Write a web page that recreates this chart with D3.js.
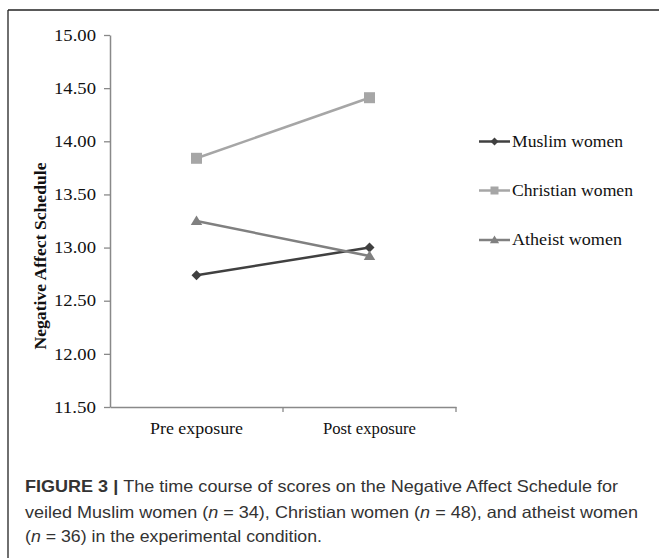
<!DOCTYPE html>
<html>
<head>
<meta charset="utf-8">
<script src="https://cdn.jsdelivr.net/npm/d3@7/dist/d3.min.js"></script>
<style>
  html, body { margin: 0; padding: 0; background: #fff; }
  svg { display: block; }
  .serif { font-family: "Liberation Serif", "Times New Roman", serif; }
</style>
</head>
<body>
<svg id="chart" width="659" height="558"></svg>
<script>
// ---- data ----
const timepoints = ["Pre exposure", "Post exposure"];
const seriesNames = ["Muslim women", "Christian women", "Atheist women"];
const muslimValues = [12.74, 13.00];
const christianValues = [13.84, 14.41];
const atheistValues = [13.25, 12.92];
const yTicks = [11.5, 12.0, 12.5, 13.0, 13.5, 14.0, 14.5, 15.0];
const yLabel = "Negative Affect Schedule";
const captionLines = [
  [{t: "FIGURE 3 | ", b: true}, {t: "The time course of scores on the Negative Affect Schedule for"}],
  [{t: "veiled Muslim women ("}, {t: "n", i: true}, {t: " = 34), Christian women ("}, {t: "n", i: true}, {t: " = 48), and atheist women"}],
  [{t: "("}, {t: "n", i: true}, {t: " = 36) in the experimental condition."}]
];

const series = [
  {name: seriesNames[0], values: muslimValues, color: "#404040", shape: "diamond"},
  {name: seriesNames[1], values: christianValues, color: "#a6a6a6", shape: "square"},
  {name: seriesNames[2], values: atheistValues, color: "#808080", shape: "triangle"}
];

const svg = d3.select("#chart");

// frame (top and left border)
svg.append("line").attr("x1", 8).attr("y1", 10).attr("x2", 659).attr("y2", 10)
  .attr("stroke", "#222").attr("stroke-width", 1.3);
svg.append("line").attr("x1", 8).attr("y1", 10).attr("x2", 8).attr("y2", 558)
  .attr("stroke", "#222").attr("stroke-width", 1.3);

const plotLeft = 110, plotRight = 456, plotTop = 35, plotBottom = 407;

const x = d3.scaleBand().domain(timepoints).range([plotLeft, plotRight]).padding(0);
const y = d3.scaleLinear().domain([11.5, 15]).range([plotBottom, plotTop]);

const axisColor = "#898989";
const fmt = d3.format(".2f");

// y axis (lines from d3 axis, labels as own serif text)
const yAxis = svg.append("g").attr("transform", `translate(${plotLeft},0)`)
  .call(d3.axisLeft(y).tickValues(yTicks).tickFormat("").tickSize(6).tickSizeOuter(0));
yAxis.select(".domain").attr("stroke", axisColor).attr("stroke-width", 1.5);
yAxis.selectAll(".tick line").attr("stroke", axisColor).attr("stroke-width", 1.3);
yAxis.selectAll(".tick text").remove();
svg.append("g").selectAll("text").data(yTicks).enter().append("text")
  .attr("class", "serif")
  .attr("x", plotLeft - 14).attr("y", d => y(d)).attr("dy", "0.35em")
  .attr("text-anchor", "end")
  .attr("fill", "#111")
  .style("font-size", "16.5px")
  .attr("textLength", 42).attr("lengthAdjust", "spacingAndGlyphs")
  .text(d => fmt(d));

// x axis
const xAxis = svg.append("g").attr("transform", `translate(0,${plotBottom})`)
  .call(d3.axisBottom(x).tickSize(0).tickSizeOuter(0).tickFormat(""));
xAxis.select(".domain").attr("stroke", axisColor).attr("stroke-width", 1.5);
xAxis.selectAll(".tick text").remove();
const boundaries = [x(timepoints[1]), x(timepoints[1]) + x.bandwidth()];
xAxis.selectAll(".bnd").data(boundaries).enter().append("line")
  .attr("x1", d => d).attr("x2", d => d).attr("y1", 0).attr("y2", 5)
  .attr("stroke", axisColor).attr("stroke-width", 1.3);
svg.append("g").selectAll("text").data(timepoints).enter().append("text")
  .attr("class", "serif")
  .attr("x", d => x(d) + x.bandwidth() / 2).attr("y", plotBottom + 27)
  .attr("text-anchor", "middle").attr("fill", "#111")
  .style("font-size", "16px")
  .attr("textLength", 93).attr("lengthAdjust", "spacingAndGlyphs")
  .text(d => d);

// y label
svg.append("text").attr("class", "serif")
  .attr("transform", `translate(46,${(plotTop + plotBottom) / 2 + 35}) rotate(-90)`)
  .attr("text-anchor", "middle")
  .style("font-weight", "bold").style("font-size", "16px")
  .attr("textLength", 187).attr("lengthAdjust", "spacingAndGlyphs")
  .attr("fill", "#111")
  .text(yLabel);

// markers
function marker(sel, shape, color, s) {
  if (shape === "diamond") {
    sel.append("path").attr("d", `M0,${-s}L${s},0L0,${s}L${-s},0Z`).attr("fill", color);
  } else if (shape === "square") {
    sel.append("rect").attr("x", -s).attr("y", -s).attr("width", 2 * s).attr("height", 2 * s).attr("fill", color);
  } else {
    sel.append("path").attr("d", `M0,${-s * 1.1}L${s * 1.15},${s * 0.8}L${-s * 1.15},${s * 0.8}Z`).attr("fill", color);
  }
}

const cx = d => x(d) + x.bandwidth() / 2;
const line = d3.line().x(d => cx(d.t)).y(d => y(d.v));

series.forEach(s => {
  const pts = s.values.map((v, i) => ({t: timepoints[i], v}));
  svg.append("path").datum(pts).attr("d", line).attr("fill", "none")
    .attr("stroke", s.color).attr("stroke-width", 2.5);
  pts.forEach(p => {
    const g = svg.append("g").attr("transform", `translate(${cx(p.t)},${y(p.v)})`);
    marker(g, s.shape, s.color, s.shape === "square" ? 5.5 : 5);
  });
});

// legend
const legendY = [141.5, 190.5, 240];
const legendWidths = [111, 121, 110];
series.forEach((s, i) => {
  const g = svg.append("g").attr("transform", `translate(479,${legendY[i]})`);
  g.append("line").attr("x1", 0).attr("x2", 31).attr("y1", 0).attr("y2", 0)
    .attr("stroke", s.color).attr("stroke-width", 2.5);
  const m = g.append("g").attr("transform", "translate(15.5,0)");
  marker(m, s.shape, s.color, 4);
  g.append("text").attr("class", "serif").attr("x", 33).attr("y", 0).attr("dy", "0.33em")
    .style("font-size", "16.5px").attr("fill", "#111")
    .attr("textLength", legendWidths[i]).attr("lengthAdjust", "spacingAndGlyphs")
    .text(s.name);
});

// caption
const capBase = [491.5, 517.5, 542];
const capLen = [593, 613, 297];
const sans = "'Liberation Sans', Arial, Helvetica, sans-serif";
captionLines.forEach((parts, i) => {
  const t = svg.append("text").attr("x", 25).attr("y", capBase[i])
    .style("font-family", sans).style("font-size", "16.5px").attr("fill", "#333")
    .attr("textLength", capLen[i]).attr("lengthAdjust", "spacingAndGlyphs");
  parts.forEach(p => {
    t.append("tspan").text(p.t)
      .style("font-weight", p.b ? "bold" : "normal")
      .style("font-style", p.i ? "italic" : "normal");
  });
});
</script>
</body>
</html>
